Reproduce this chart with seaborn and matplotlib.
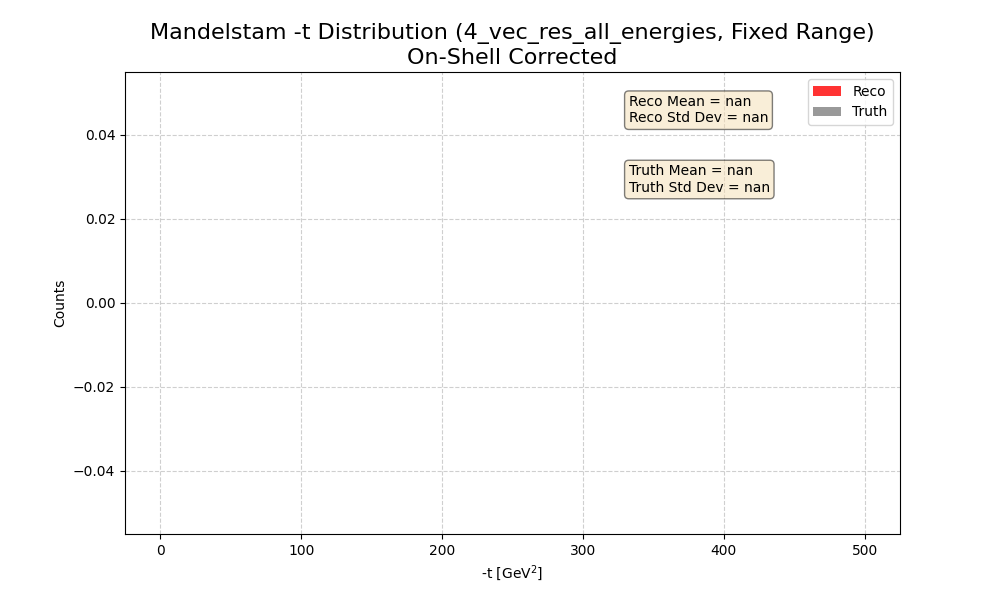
import numpy as np
import matplotlib
matplotlib.use("Agg")
import matplotlib.pyplot as plt
import seaborn as sns

reco_values = np.array([], dtype=float)
truth_values = np.array([], dtype=float)
x_range = (0, 500)
n_bins = 100
reco_label = "Reco"
truth_label = "Truth"

fig, ax = plt.subplots(figsize=(10, 6), dpi=100)
ax.hist(reco_values, bins=n_bins, range=x_range, color="red", alpha=0.8, label=reco_label)
ax.hist(truth_values, bins=n_bins, range=x_range, color="gray", alpha=0.8, label=truth_label)

def fmt(v):
    return "nan" if v.size == 0 else f"{v.mean():.2f}"
def fsd(v):
    return "nan" if v.size == 0 else f"{v.std():.2f}"

box = dict(boxstyle="round", facecolor="wheat", alpha=0.5)
ax.text(0.65, 0.95, f"Reco Mean = {fmt(reco_values)}\nReco Std Dev = {fsd(reco_values)}",
        transform=ax.transAxes, fontsize=10, va="top", bbox=box)
ax.text(0.65, 0.80, f"Truth Mean = {fmt(truth_values)}\nTruth Std Dev = {fsd(truth_values)}",
        transform=ax.transAxes, fontsize=10, va="top", bbox=box)

ax.set_title("Mandelstam -t Distribution (4_vec_res_all_energies, Fixed Range)\nOn-Shell Corrected", fontsize=16)
ax.set_xlabel("-t [GeV$^2$]")
ax.set_ylabel("Counts")
ax.grid(True, linestyle="--", alpha=0.6)
ax.legend(loc="upper right")
sns.despine(ax=ax, top=False, right=False)
fig.savefig("out.png")
